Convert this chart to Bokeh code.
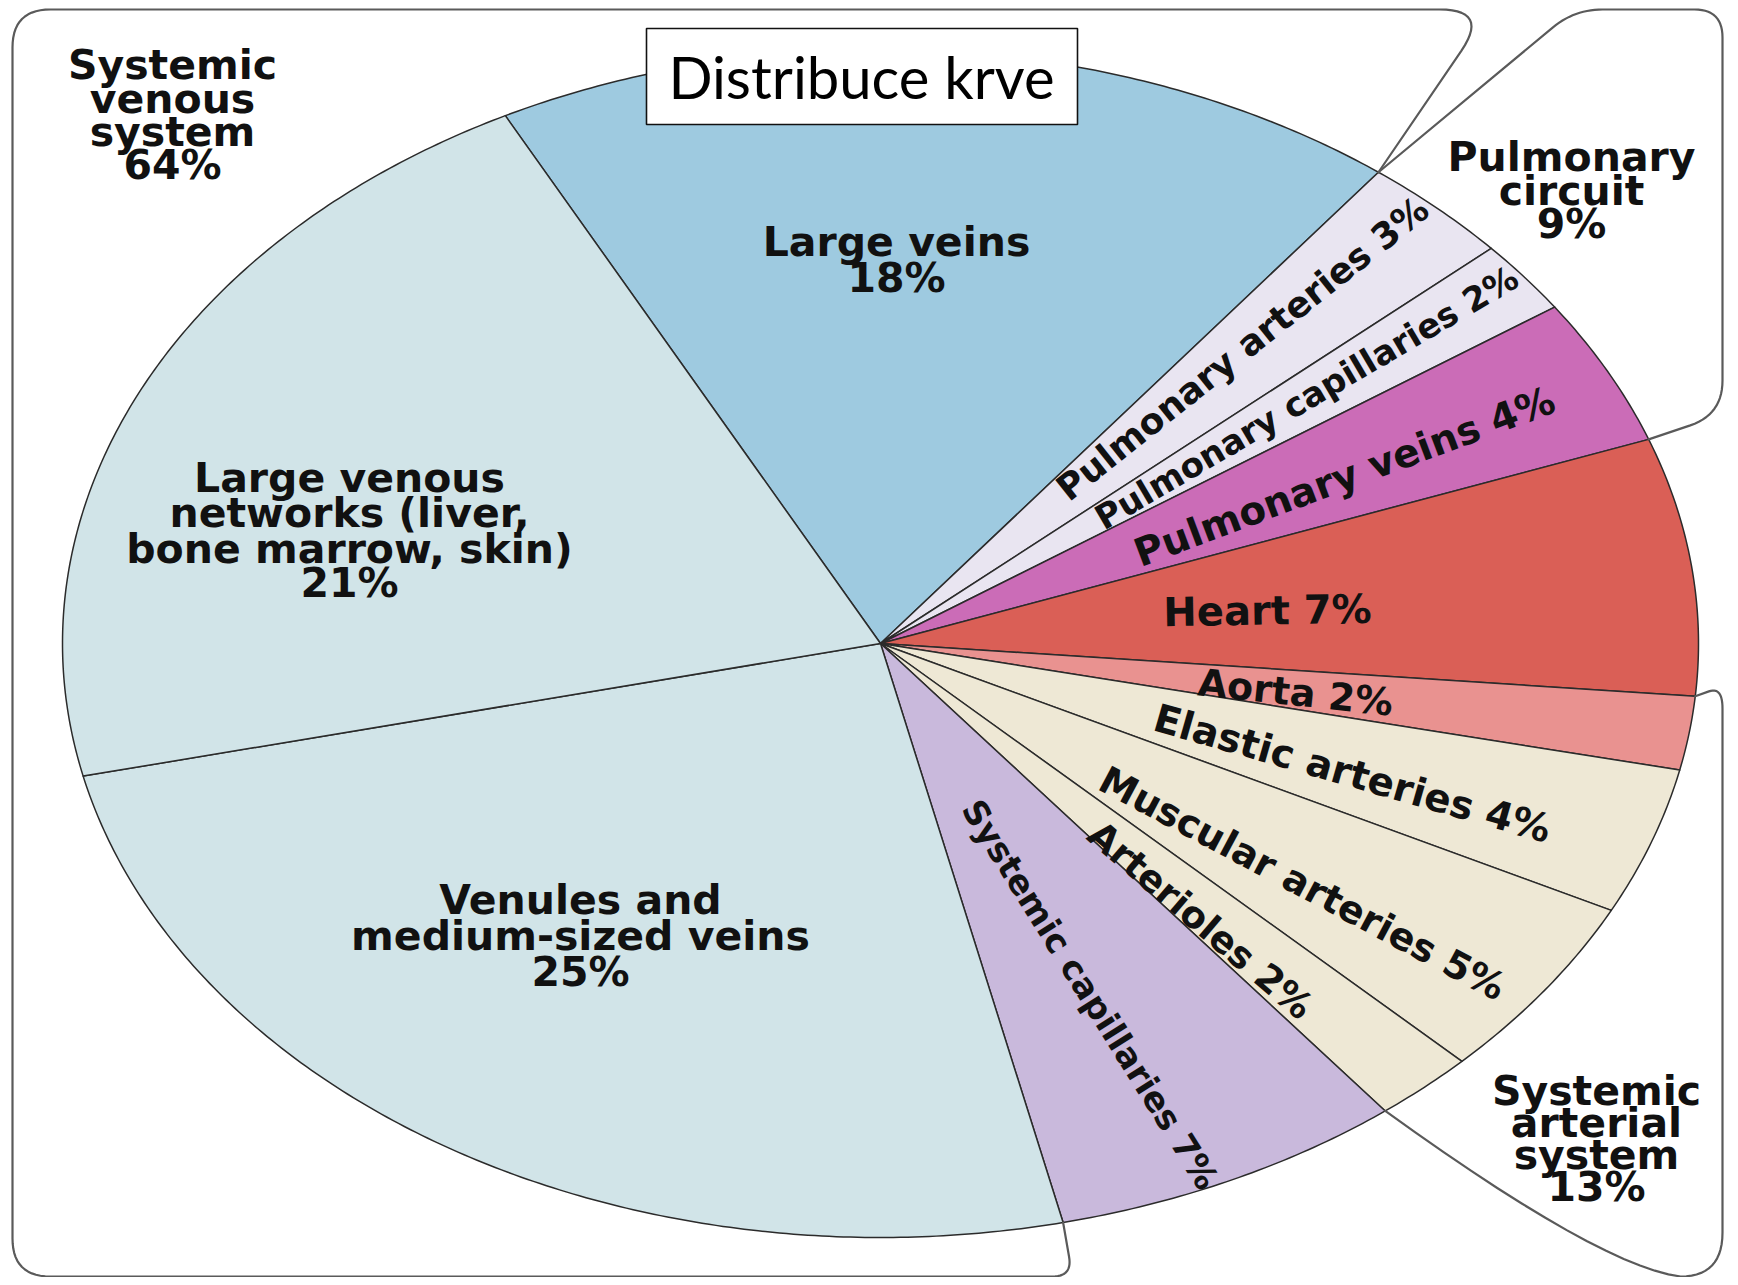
import math
from bokeh.plotting import figure
from bokeh.models import Range1d
from bokeh.core.properties import value
from bokeh.embed import file_html
from bokeh.resources import INLINE

# ---------------- data ----------------
categories = ["Large veins", "Pulmonary arteries", "Pulmonary capillaries",
              "Pulmonary veins", "Heart", "Aorta", "Elastic arteries",
              "Muscular arteries", "Arterioles", "Systemic capillaries",
              "Venules and medium-sized veins",
              "Large venous networks (liver, bone marrow, skin)"]
percent = [18, 3, 2, 4, 7, 2, 4, 5, 2, 7, 25, 21]

groups = ["Systemic venous system", "Pulmonary circuit", "Systemic arterial system"]
group_percent = [64, 9, 13]

title_text = "Distribuce krve"

# ---------------- styles ----------------
slice_colors = ["#9ecae0", "#e9e5f1", "#e9e5f1", "#cb6cb7", "#da5f56", "#e99290",
                "#eee8d5", "#eee8d5", "#eee8d5", "#c9b9dc", "#d1e4e8", "#d1e4e8"]

CX, CY = 880.0, 643.0       # pie centre (page px)
RX, RY = 818.0, 594.0       # ellipse radii (page px)
START = -27.3               # degrees, clockwise from top

LABEL_FONT = value("DejaVu Sans")
INK = "#111111"
OUTLINE = "#5a5a5a"

W, H = 1730, 1277

p = figure(width=W, height=H, x_range=Range1d(0, W), y_range=Range1d(-H, 0),
           output_backend="svg", toolbar_location=None,
           x_axis_location=None, y_axis_location=None, min_border=0)
p.grid.visible = False
p.outline_line_color = None
p.background_fill_color = "white"
p.border_fill_color = "white"


def ell_pt(theta, r=1.0):
    t = math.radians(theta)
    return CX + r * RX * math.sin(t), CY - r * RY * math.cos(t)


# ---------------- pie slices ----------------
bounds = [START]
for v in percent:
    bounds.append(bounds[-1] + v * 3.6)

xs, ys = [], []
for i in range(len(percent)):
    a0, a1 = bounds[i], bounds[i + 1]
    m = max(6, int(a1 - a0) * 2)
    px, py = [CX], [CY]
    for k in range(m + 1):
        x, y = ell_pt(a0 + (a1 - a0) * k / m)
        px.append(x)
        py.append(y)
    xs.append(px)
    ys.append([-y for y in py])

p.patches(xs, ys, fill_color=slice_colors, line_color="#2b2b2b", line_width=1.5,
          line_join="round")


# ---------------- group outlines ----------------
def quad(a, c, b, steps=14):
    pts = []
    for k in range(steps + 1):
        t = k / steps
        pts.append(((1 - t) ** 2 * a[0] + 2 * (1 - t) * t * c[0] + t * t * b[0],
                    (1 - t) ** 2 * a[1] + 2 * (1 - t) * t * c[1] + t * t * b[1]))
    return pts


def rounded_path(verts, radii):
    out = [verts[0]]
    for i in range(1, len(verts) - 1):
        r = radii[i]
        (x0, y0), (x1, y1), (x2, y2) = verts[i - 1], verts[i], verts[i + 1]
        if r <= 0:
            out.append((x1, y1))
            continue
        d1 = math.hypot(x0 - x1, y0 - y1)
        d2 = math.hypot(x2 - x1, y2 - y1)
        r1, r2 = min(r, d1 / 2), min(r, d2 / 2)
        a = (x1 + (x0 - x1) * r1 / d1, y1 + (y0 - y1) * r1 / d1)
        b = (x1 + (x2 - x1) * r2 / d2, y1 + (y2 - y1) * r2 / d2)
        out.extend(quad(a, (x1, y1), b))
    out.append(verts[-1])
    return out


def draw(path):
    p.line([q[0] for q in path], [-q[1] for q in path], line_color=OUTLINE,
           line_width=2.2, line_join="round", line_cap="round")


# boundaries of the groups on the pie rim (from data)
lv_pa = ell_pt(bounds[1])
pv_h = ell_pt(bounds[4])
h_a = ell_pt(bounds[5])
ar_sc = ell_pt(bounds[9])
sc_v = ell_pt(bounds[10])

venous = rounded_path([lv_pa, (1489, 9), (12, 9), (12, 1276), (1072, 1276), sc_v],
                      [0, 50, 38, 38, 20, 0])
draw(venous)

pulmonary = rounded_path([lv_pa, (1574, 9), (1722, 9), (1722, 414), pv_h],
                         [0, 28, 28, 34, 0])
draw(pulmonary)

arterial = rounded_path([h_a, (1722, 686), (1722, 1232)], [0, 22, 0])
arterial += quad((1722, 1232), (1722, 1276), (1680, 1276))
arterial += quad((1680, 1276), (1600, 1266), ar_sc)
draw(arterial)

# ---------------- title box ----------------
p.quad(left=646, right=1077, top=-28, bottom=-124, fill_color="white",
       line_color="#111111", line_width=1.6)
p.text(x=[861], y=[-76], text=[title_text], text_font=value("Lato"),
       text_font_size="58px", text_align="center", text_baseline="middle",
       text_color="#000000")


# ---------------- labels ----------------
def block(lines, x, centres, size="41px"):
    p.text(x=[x] * len(lines), y=[-c for c in centres], text=lines,
           text_font=LABEL_FONT, text_font_style="bold", text_font_size=size,
           text_align="center", text_baseline="middle", text_color=INK)


block(["Large veins", f"{percent[0]}%"], 896, [241, 277])
block(["Large venous", "networks (liver,", "bone marrow, skin)", f"{percent[11]}%"],
      349, [477, 512, 548, 582])
block(["Venules and", "medium-sized veins", f"{percent[10]}%"], 580, [899, 935, 971])

block(["Systemic", "venous", "system", f"{group_percent[0]}%"], 172, [64, 98, 131, 164])
block(["Pulmonary", "circuit", f"{group_percent[1]}%"], 1571, [156, 190, 223])
block(["Systemic", "arterial", "system", f"{group_percent[2]}%"], 1596,
      [1090, 1122, 1154, 1186])

# rotated slice labels
rot_idx = [1, 2, 3, 4, 5, 6, 7, 8, 9]
rot_pos = [(1242, 348), (1306, 397), (1344, 476), (1267, 610), (1295, 692),
           (1352, 773), (1302, 883), (1200, 920), (1090, 994)]
rot_angle = [38.5, 30.5, 20.5, 1.0, -6.0, -16.0, -28.0, -40.5, -58.0]
rot_size = ["36px", "34px", "39px", "40px", "38px", "39px", "38px", "37px", "34px"]

for i, (x, y), ang, sz in zip(rot_idx, rot_pos, rot_angle, rot_size):
    p.text(x=[x], y=[-y], text=[f"{categories[i]} {percent[i]}%"], angle=[math.radians(ang)],
           text_font=LABEL_FONT, text_font_style="bold", text_font_size=sz,
           text_align="center", text_baseline="middle", text_color=INK)

open("out.html", "w").write(file_html(p, INLINE))
